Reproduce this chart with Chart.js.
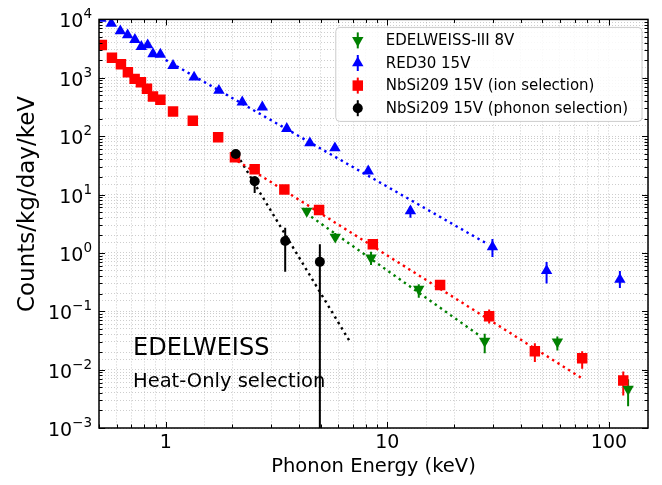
<!DOCTYPE html>
<html><head><meta charset="utf-8">
<script src="https://cdn.jsdelivr.net/npm/chart.js@4/dist/chart.umd.min.js"></script>
<style>html,body{margin:0;padding:0;background:#fff}#wrap{width:662px;height:485px}</style>
</head><body><div id="wrap"><canvas id="c" width="662" height="485"></canvas></div>
<script>
const FONT = "'DejaVu Sans', sans-serif";

// Axis tick labels
const xTickValues = [1, 10, 100];
const xTickLabels = ['1', '10', '100'];
const yTickValues = [1e-3, 1e-2, 1e-1, 1, 10, 100, 1e3, 1e4];
const yTickBase = '10';
const yTickExponents = ['−3', '−2', '−1', '0', '1', '2', '3', '4'];
const xAxisTitle = 'Phonon Energy (keV)';
const yAxisTitle = 'Counts/kg/day/keV';

const seriesNames = ['EDELWEISS-III 8V', 'RED30 15V', 'NbSi209 15V (ion selection)', 'NbSi209 15V (phonon selection)'];

// EDELWEISS-III 8V (green, down triangles)
const edwEnergy  = [4.33, 5.82, 8.44, 13.86, 27.5, 58.5, 122];
const edwRate    = [5.21, 1.875, 0.822, 0.240, 0.0309, 0.030, 0.00463];
const edwErrLow  = [4.6, 1.6, 0.62, 0.17, 0.0191, 0.0213, 0.00236];
const edwErrHigh = [5.9, 2.2, 1.05, 0.29, 0.041, 0.0369, 0.00687];

// RED30 15V (blue, up triangles)
const redEnergy  = [0.51, 0.568, 0.624, 0.673, 0.726, 0.776, 0.829, 0.876, 0.946, 1.079, 1.343, 1.738, 2.215, 2.728, 3.517, 4.47, 5.80, 8.20, 12.71, 29.8, 52.3, 112];
const redRate    = [10400, 8510, 6310, 5400, 4490, 3410, 3640, 2560, 2520, 1615, 1020, 605, 382, 314, 134, 76.3, 62.7, 25.1, 5.21, 1.27, 0.493, 0.350];
const redErrLow  = [null, null, null, null, null, null, null, null, null, null, null, null, null, null, null, null, null, null, 4.0, 0.85, 0.30, 0.25];
const redErrHigh = [null, null, null, null, null, null, null, null, null, null, null, null, null, null, null, null, null, null, 6.3, 1.73, 0.70, 0.49];

// NbSi209 15V ion selection (red squares)
const ionEnergy  = [0.515, 0.572, 0.628, 0.675, 0.724, 0.773, 0.823, 0.876, 0.946, 1.079, 1.325, 1.724, 2.053, 2.52, 3.43, 4.92, 8.60, 17.3, 28.8, 46.3, 75.7, 116];
const ionRate    = [3640, 2210, 1700, 1240, 958, 838, 647, 478, 420, 265, 184, 95.4, 43.5, 27.1, 12.2, 5.42, 1.40, 0.281, 0.0818, 0.0207, 0.0157, 0.00654];
const ionErrLow  = [null, null, null, null, null, null, null, null, null, null, null, null, null, null, null, null, null, 0.25, 0.062, 0.0135, 0.0104, 0.0036];
const ionErrHigh = [null, null, null, null, null, null, null, null, null, null, null, null, null, null, null, null, null, 0.32, 0.107, 0.0283, 0.0207, 0.0093];

// NbSi209 15V phonon selection (black circles)
const phoEnergy  = [2.07, 2.52, 3.46, 4.96];
const phoRate    = [49.5, 16.9, 1.60, 0.702];
const phoErrLow  = [44, 10.6, 0.474, 0.0001];
const phoErrHigh = [56, 20.5, 2.70, 1.41];

// Power-law fits (end points, straight lines in log-log)
const edwFitEnergy = [4.3, 26.4];
const edwFitRate   = [4.8, 0.037];
const redFitEnergy = [1.0, 27.6];
const redFitRate   = [2020, 1.50];
const ionFitEnergy = [2.0, 76.0];
const ionFitRate   = [42.6, 0.0070];
const phoFitEnergy = [2.1, 6.8];
const phoFitRate   = [48, 0.0295];

const colors = ['#008000', '#0000ff', '#ff0000', '#000000'];
const shapes = ['triangleDown', 'triangle', 'rect', 'circle'];

function pts(xs, ys) { return xs.map((x, i) => ({x: x, y: ys[i]})); }

function markerSet(i, xs, ys, lo, hi, style, rot, radius, order) {
  return {
    label: seriesNames[i], data: pts(xs, ys), showLine: false,
    pointStyle: style, rotation: rot, pointRadius: radius, pointHoverRadius: radius,
    backgroundColor: colors[i], borderColor: colors[i], pointBorderWidth: 0,
    errLow: lo, errHigh: hi, legendShape: shapes[i], order: order, clip: 0
  };
}
function fitSet(i, xs, ys) {
  return {
    label: '', isFit: true, data: pts(xs, ys), showLine: true, pointRadius: 0,
    borderColor: colors[i], borderWidth: 2.4, borderDash: [2.4, 3.9], borderCapStyle: 'butt',
    fill: false, order: 10
  };
}

const errorBars = {
  id: 'errorBars',
  beforeDatasetsDraw(chart) {
    const {ctx, chartArea: a, scales: {x, y}} = chart;
    ctx.save();
    ctx.beginPath(); ctx.rect(a.left, a.top, a.right - a.left, a.bottom - a.top); ctx.clip();
    chart.data.datasets.forEach(ds => {
      if (!ds.errLow) return;
      ctx.strokeStyle = ds.borderColor; ctx.lineWidth = 2;
      ds.data.forEach((p, i) => {
        const lo = ds.errLow[i], hi = ds.errHigh[i];
        if (lo == null || hi == null) return;
        const px = x.getPixelForValue(p.x);
        ctx.beginPath();
        ctx.moveTo(px, y.getPixelForValue(lo));
        ctx.lineTo(px, y.getPixelForValue(hi));
        ctx.stroke();
      });
    });
    ctx.restore();
  }
};

function isIntSig(v) {
  const e = Math.floor(Math.log10(v) + 1e-9);
  const m = v / Math.pow(10, e);
  return Math.abs(m - Math.round(m)) < 1e-6 ? Math.round(m) : 0;
}

const frameTicks = {
  id: 'frameTicks',
  afterDatasetsDraw(chart) {
    const {ctx, chartArea: a, scales: {x, y}} = chart;
    ctx.save();
    ctx.strokeStyle = '#000';
    ctx.lineWidth = 1;
    x.ticks.forEach(t => {
      const m = isIntSig(t.value); if (!m) return;
      const len = m === 1 ? 6 : 3.5;
      const px = Math.round(x.getPixelForValue(t.value)) + 0.5;
      ctx.beginPath();
      ctx.moveTo(px, a.bottom); ctx.lineTo(px, a.bottom - len);
      ctx.moveTo(px, a.top); ctx.lineTo(px, a.top + len);
      ctx.stroke();
    });
    y.ticks.forEach(t => {
      const m = isIntSig(t.value); if (!m) return;
      const len = m === 1 ? 6 : 3.5;
      const py = Math.round(y.getPixelForValue(t.value)) + 0.5;
      ctx.beginPath();
      ctx.moveTo(a.left, py); ctx.lineTo(a.left + len, py);
      ctx.moveTo(a.right, py); ctx.lineTo(a.right - len, py);
      ctx.stroke();
    });
    ctx.lineWidth = 1.5;
    ctx.strokeRect(a.left, a.top, a.right - a.left, a.bottom - a.top);
    ctx.restore();
  }
};

function drawShape(ctx, shape, cx, cy, r) {
  ctx.beginPath();
  if (shape === 'circle') {
    ctx.arc(cx, cy, r, 0, Math.PI * 2);
  } else if (shape === 'rect') {
    const s = r * Math.SQRT1_2;
    ctx.rect(cx - s, cy - s, 2 * s, 2 * s);
  } else if (shape === 'triangle') {
    ctx.moveTo(cx, cy - r);
    ctx.lineTo(cx + r * 0.866, cy + r * 0.5);
    ctx.lineTo(cx - r * 0.866, cy + r * 0.5);
    ctx.closePath();
  } else {
    ctx.moveTo(cx, cy + r);
    ctx.lineTo(cx + r * 0.866, cy - r * 0.5);
    ctx.lineTo(cx - r * 0.866, cy - r * 0.5);
    ctx.closePath();
  }
  ctx.fill();
}

const annotations = {
  id: 'annotations',
  afterDraw(chart) {
    const {ctx, chartArea: a, scales: {y}} = chart;
    ctx.save();
    ctx.fillStyle = '#000';
    // y tick labels as 10 with superscript exponent
    yTickValues.forEach((v, i) => {
      const py = y.getPixelForValue(v);
      const R = a.left - 7;
      ctx.font = '13.5px ' + FONT;
      const w2 = ctx.measureText(yTickExponents[i]).width;
      ctx.font = '19px ' + FONT;
      const w1 = ctx.measureText(yTickBase).width;
      ctx.textAlign = 'left'; ctx.textBaseline = 'alphabetic';
      ctx.fillText(yTickBase, R - w2 - w1, py + 8);
      ctx.font = '13.5px ' + FONT;
      ctx.fillText(yTickExponents[i], R - w2, py - 1);
    });
    // y axis title
    ctx.save();
    ctx.font = '23px ' + FONT;
    ctx.translate(28, 204);
    ctx.rotate(-Math.PI / 2);
    ctx.textAlign = 'center'; ctx.textBaseline = 'middle';
    ctx.fillText(yAxisTitle, 0, 0);
    ctx.restore();
    // in-plot text
    ctx.textAlign = 'left'; ctx.textBaseline = 'alphabetic';
    ctx.font = '24px ' + FONT;
    ctx.fillText('EDELWEISS', a.left + 34, 355);
    ctx.font = '19.5px ' + FONT;
    ctx.fillText('Heat-Only selection', a.left + 34, 387);
    // legend
    const items = chart.data.datasets.filter(d => !d.isFit);
    ctx.font = '15px ' + FONT;
    let tw = 0; items.forEach(d => tw = Math.max(tw, ctx.measureText(d.label).width));
    const bw = tw + 64, bh = 94;
    const bx = a.right - 6 - bw, by = a.top + 8;
    ctx.beginPath();
    if (ctx.roundRect) ctx.roundRect(bx, by, bw, bh, 4); else ctx.rect(bx, by, bw, bh);
    ctx.fillStyle = 'rgba(255,255,255,0.85)'; ctx.fill();
    ctx.strokeStyle = '#cccccc'; ctx.lineWidth = 1; ctx.stroke();
    items.forEach((d, i) => {
      const cy = by + 13 + i * 22.6;
      const cx = bx + 22;
      ctx.strokeStyle = d.borderColor; ctx.fillStyle = d.backgroundColor; ctx.lineWidth = 2;
      ctx.beginPath(); ctx.moveTo(cx, cy - 8); ctx.lineTo(cx, cy + 8); ctx.stroke();
      drawShape(ctx, d.legendShape, cx, cy, d.pointRadius);
      ctx.fillStyle = '#000'; ctx.textBaseline = 'middle';
      ctx.fillText(d.label, bx + 50, cy + 1);
    });
    ctx.restore();
  }
};

new Chart(document.getElementById('c'), {
  type: 'scatter',
  data: {
    datasets: [
      markerSet(0, edwEnergy, edwRate, edwErrLow, edwErrHigh, 'triangle', 180, 6.6, 4),
      markerSet(1, redEnergy, redRate, redErrLow, redErrHigh, 'triangle', 0, 6.6, 3),
      markerSet(2, ionEnergy, ionRate, ionErrLow, ionErrHigh, 'rect', 0, 7.4, 2),
      markerSet(3, phoEnergy, phoRate, phoErrLow, phoErrHigh, 'circle', 0, 5, 1),
      fitSet(0, edwFitEnergy, edwFitRate),
      fitSet(1, redFitEnergy, redFitRate),
      fitSet(2, ionFitEnergy, ionFitRate),
      fitSet(3, phoFitEnergy, phoFitRate)
    ]
  },
  options: {
    responsive: false, animation: false, devicePixelRatio: 1,
    layout: {padding: {left: 0, right: 14, top: 18, bottom: 0}},
    plugins: {legend: {display: false}, tooltip: {enabled: false}},
    scales: {
      x: {
        type: 'logarithmic', min: 0.5, max: 150,
        afterFit(s) { s.height = 57; },
        grid: {color: 'rgba(140,140,140,0.55)', lineWidth: 0.8, drawTicks: false},
        border: {display: false, dash: [1, 2]},
        ticks: {
          autoSkip: false, maxRotation: 0, padding: 4, color: '#000',
          font: {family: FONT, size: 19},
          callback(v) { const k = xTickValues.findIndex(t => Math.abs(t - v) / t < 1e-6); return k >= 0 ? xTickLabels[k] : ''; }
        },
        title: {display: true, text: xAxisTitle, color: '#000', font: {family: FONT, size: 19.5}, padding: {top: 0, bottom: 6}}
      },
      y: {
        type: 'logarithmic', min: 1e-3, max: 1e4,
        afterFit(s) { s.width = 99; },
        grid: {color: 'rgba(140,140,140,0.55)', lineWidth: 0.8, drawTicks: false},
        border: {display: false, dash: [1, 2]},
        ticks: {autoSkip: false, padding: 8, color: '#000', font: {family: FONT, size: 19}, callback() { return ''; }},
        title: {display: false}
      }
    }
  },
  plugins: [errorBars, frameTicks, annotations]
});
</script>
</body></html>
